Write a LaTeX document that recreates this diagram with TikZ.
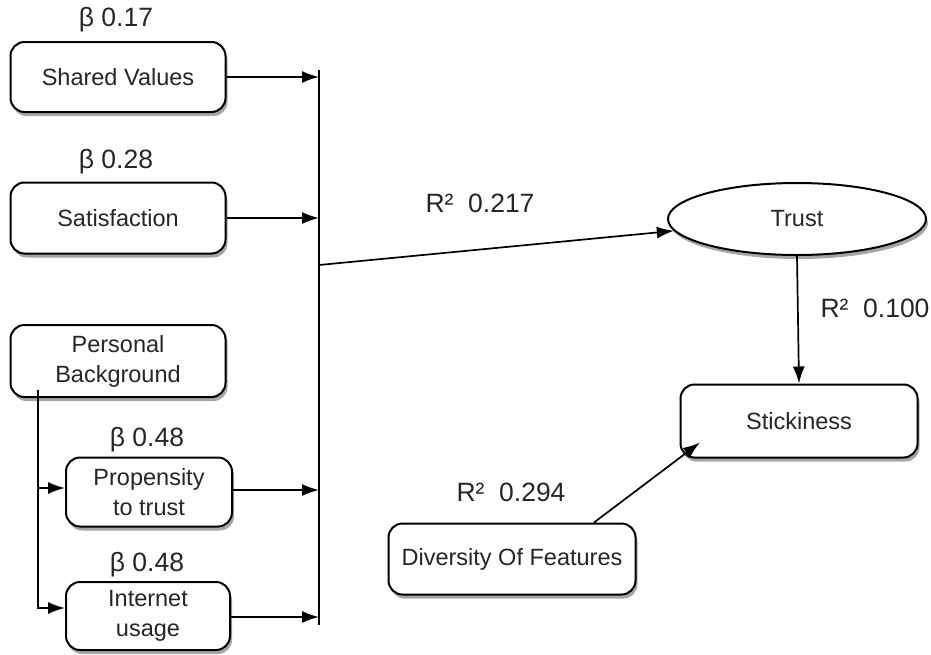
\documentclass[tikz,border=0pt]{standalone}
\usepackage{fontspec}
\setmainfont{Liberation Sans}
\usetikzlibrary{arrows.meta,shapes.geometric,shadows}
\begin{document}
\begin{tikzpicture}[x=1pt,y=-1pt,
  every node/.style={font=\fontsize{23.5}{30}\selectfont, text=black!85, align=center},
  box/.style={draw, line width=2pt, rounded corners=14pt, fill=white, inner sep=0pt,
    drop shadow={shadow xshift=2pt, shadow yshift=-4pt, fill=black, opacity=0.35}},
  ell/.style={draw, ellipse, line width=2pt, fill=white, inner sep=0pt,
    drop shadow={shadow xshift=2pt, shadow yshift=-4pt, fill=black, opacity=0.35}},
  lbl/.style={font=\fontsize{26.5}{30}\selectfont},
  conn/.style={line width=1.7pt, -{Latex[length=17pt,width=12pt]}},
  plain/.style={line width=1.7pt}]
\useasboundingbox (0,0) rectangle (931,654);

\node[box, minimum width=215pt, minimum height=70pt] (sv) at (118,77) {Shared Values};
\node[box, minimum width=215pt, minimum height=71pt] (sat) at (118,218) {Satisfaction};
\node[box, minimum width=215pt, minimum height=72pt] (pb) at (118,361) {Personal\\Background};
\node[box, minimum width=166pt, minimum height=69pt] (prop) at (149,492) {Propensity\\to trust};
\node[box, minimum width=164pt, minimum height=68pt] (inet) at (148,616) {Internet\\usage};
\node[ell, minimum width=258pt, minimum height=72pt] (trust) at (797,219) {Trust};
\node[box, minimum width=237pt, minimum height=73pt] (stick) at (799,421) {Stickiness};
\node[box, minimum width=247pt, minimum height=71pt] (div) at (512,559) {Diversity Of Features};

\node[lbl] (b1) at (116,20) {β 0.17};
\node[lbl] (b2) at (116,162) {β 0.28};
\node[lbl] (b3) at (147,440) {β 0.48};
\node[lbl] (b4) at (147,565) {β 0.48};
\node[lbl] (r1) at (480,203) {R²\ \ 0.217};
\node[lbl] (r2) at (875,308) {R²\ \ 0.100};
\node[lbl] (r3) at (511,492) {R²\ \ 0.294};

\coordinate (bartop) at (319,70);
\coordinate (barbot) at (319,625);
\coordinate (barout) at (319,265);
\draw[plain] (bartop) -- (barbot);

\draw[conn] (sv.east) -- (sv.east -| bartop);
\draw[conn] (sat.east) -- (sat.east -| bartop);
\draw[conn] ([yshift=2pt]prop.east) -- ([yshift=2pt]prop.east -| bartop);
\draw[conn] ([yshift=-1pt]inet.east) -- ([yshift=-1pt]inet.east -| bartop);

\draw[conn] (barout) -- (trust);
\draw[conn] (trust.south) -- (stick.north);
\draw[conn] ([xshift=82pt]div.north) -- ([xshift=-99pt,yshift=16pt]stick.south);

\coordinate (pbdown) at ([xshift=-80pt,yshift=8pt]pb.south);
\draw[conn] (pbdown) |- ([yshift=4pt]prop.west);
\draw[conn] (pbdown) |- ([yshift=8pt]inet.west);
\end{tikzpicture}
\end{document}
